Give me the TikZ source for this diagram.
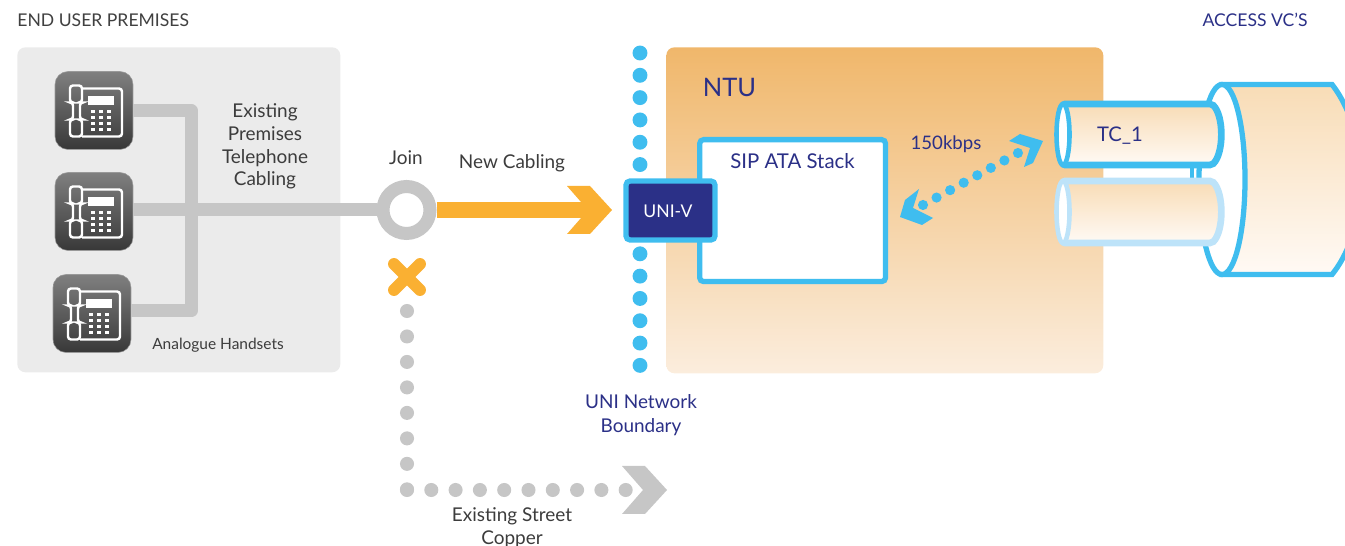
\documentclass[tikz,border=0pt]{standalone}
\usepackage{fontspec}
\setmainfont{Lato}
\usepackage{tikz}
\usetikzlibrary{arrows, calc}

\definecolor{uninavy}{HTML}{2B3087}
\definecolor{uniblue}{HTML}{3FBDEF}
\definecolor{paleblue}{HTML}{BDE3F9}
\definecolor{cableorange}{HTML}{FAB032}
\definecolor{cablegray}{HTML}{C6C6C6}
\definecolor{premgray}{HTML}{EBEBEB}
\definecolor{ntutop}{HTML}{F0B76B}
\definecolor{ntubottom}{HTML}{FBEDDD}
\definecolor{tubetop}{HTML}{F8DCB6}
\definecolor{tubebottom}{HTML}{FFFAF5}
\definecolor{labelgray}{HTML}{3C3C3C}

\tikzset{
    phonebox/.style={rounded corners=0.26cm, minimum width=1.56cm, minimum height=1.56cm, top color=black!50, bottom color=black!78, draw=black!40, line width=0.3pt},
    phoneline/.style={draw=white, line width=1.4pt, rounded corners=0.06cm},
    premcable/.style={cablegray, line width=7.4pt},
    newcable/.style={cableorange, line width=9pt},
    dotgray/.style={cablegray, line width=8pt, line cap=round, dash pattern=on 0pt off 14.5pt},
    dotgrayh/.style={cablegray, line width=8pt, line cap=round, dash pattern=on 0pt off 13.83pt},
    dotblue/.style={uniblue, line width=8.5pt, line cap=round, dash pattern=on 0pt off 12.7pt},
    dotrate/.style={uniblue, line width=5.8pt, line cap=round, dash pattern=on 0pt off 8.8pt},
    bluebox/.style={draw=uniblue, line width=3pt, rounded corners=0.08cm},
    txt/.style={text=labelgray, inner sep=0pt, align=center, font=\fontsize{10.8}{13}\selectfont},
    navytxt/.style={text=uninavy, inner sep=0pt, align=center, font=\fontsize{10.8}{14}\selectfont},
}

% one small tube of the cable: name, top, bottom, outline colour
\newcommand{\tube}[4]{
    \path[top color=tubetop, bottom color=tubebottom, draw=#4, line width=3.8pt, rounded corners=0.04cm]
        (1063,#2) -- (1212,#2) .. controls (1224,#2+12) and (1224,#3-12) .. (1212,#3) -- (1063,#3) -- cycle;
    \draw[#4, fill=white, line width=2.6pt] (1063,{(#2+#3)/2}) ellipse (6.5 and {(#3-#2)/2});
    \coordinate (#1) at (1058,{(#2+#3)/2});
}

\begin{document}
\begin{tikzpicture}[x=0.02cm, y=-0.02cm]
    \useasboundingbox (0,0) rectangle (1345,546);

    % premises side
    \node (premises) [fill=premgray, rounded corners=0.16cm, minimum width=6.46cm, minimum height=6.5cm, anchor=north west] at (17,47) {};
    \node (endlabel) [txt, text=black!75, font=\fontsize{10}{13}\selectfont, anchor=west] at (17,20) {END USER PREMISES};

    \node (phoneA) [phonebox] at (94,110.5) {};
    \node (phoneB) [phonebox] at (94,211.5) {};
    \node (phoneC) [phonebox] at (92,313.5) {};

    \foreach \ph in {phoneA,phoneB,phoneC}{
        \begin{scope}[shift={(\ph.center)}]
            \draw[phoneline] (-24,-25) -- (-12,-25) -- (-12,-8) -- (-14,-8) -- (-14,9) -- (-12,9) -- (-12,26) -- (-24,26) -- (-24,9) -- (-21,9) -- (-21,-8) -- (-24,-8) -- cycle;
            \draw[phoneline] (-12,-22) -- (28,-22) -- (28,26) -- (-12,26);
            \fill[white] (-6,-14) rectangle (20,-5);
            \foreach \kx in {-1,7,15}
                \foreach \ky in {1,7,13,19}
                    \fill[white] (\kx-2,\ky-1.8) rectangle (\kx+2,\ky+1.8);
        \end{scope}
    }

    \coordinate (busA) at (191,110.5);
    \coordinate (busC) at (191,311);
    \node (join) [circle, draw=cablegray, line width=7.4pt, fill=white, minimum size=0.94cm, inner sep=0pt] at (406.5,210) {};
    \draw[premcable, line join=round] (phoneA.east) -- (busA) -- (busC) -- (phoneC.east |- busC);
    \draw[premcable] (phoneB.east |- join) -- (join.west);

    \node (cablingtxt) [txt] at (265,146.5) {Existing\\Premises\\Telephone\\Cabling};
    \node (handsets) [txt, font=\fontsize{8.8}{10}\selectfont] at (218,345) {Analogue Handsets};
    \node (joinlabel) [txt] at (406,158) {Join};
    \node (newlabel) [txt] at (512,163) {New Cabling};

    % ntu box with the stack
    \node (ntu) [top color=ntutop, bottom color=ntubottom, rounded corners=0.16cm, minimum width=8.74cm, minimum height=6.52cm, anchor=north west] at (666,47) {};
    \node (ntulabel) [navytxt, font=\fontsize{14.5}{18}\selectfont] at (729.5,87) {NTU};

    \draw[dotblue] (640,53) -- (640,368);

    \node (sip) [bluebox, fill=white, minimum width=3.72cm, minimum height=2.84cm, anchor=north west] at (697,137) {};
    \node (siplabel) [navytxt, font=\fontsize{11.6}{13}\selectfont] at (792.5,161) {SIP ATA Stack};
    \node (univ) [bluebox, fill=uninavy, minimum width=1.78cm, minimum height=1.18cm, text=white, font=\fontsize{10}{11}\selectfont] at (670.5,210.5) {};
    \node (univlabel) [inner sep=0pt, text=white, font=\fontsize{10}{11}\selectfont] at (668,211) {UNI-V};

    % new cabling arrow
    \coordinate (newtip) at (612,210);
    \draw[newcable] (join.east) -- ($(newtip)+(-22,0)$);
    \fill[cableorange, shift={(newtip)}] (-45,-24) -- (-22,-24) -- (0,0) -- (-22,24) -- (-45,24) -- (-24,0) -- cycle;

    % removed street copper
    \coordinate (crossmark) at (407,277);
    \draw[cableorange, line width=6.8pt, line cap=round] ($(crossmark)+(-13,-13)$) -- ($(crossmark)+(13,13)$);
    \draw[cableorange, line width=6.8pt, line cap=round] ($(crossmark)+(13,-13)$) -- ($(crossmark)+(-13,13)$);
    \coordinate (streetA) at (407,311);
    \coordinate (streetB) at (407,490);
    \coordinate (streettip) at (667,490);
    \fill[cablegray, shift={(streettip)}] (-45,-24) -- (-22,-24) -- (0,0) -- (-22,24) -- (-45,24) -- (-24,0) -- cycle;
    \draw[dotgray] (streetA) -- (streetB);
    \draw[dotgrayh] (streetB) -- (632,490);
    \node (streetlabel) [txt] at (512,527.5) {Existing Street\\Copper};
    \node (unilabel) [navytxt] at (641,415) {UNI Network\\Boundary};

    % access cable
    \node (accesslabel) [navytxt, font=\fontsize{10}{14}\selectfont, anchor=east] at (1308,20) {ACCESS VC'S};
    \path[top color=tubetop, bottom color=tubebottom, draw=uniblue, line width=3pt] (1222,84.5) -- (1332,84.5) .. controls (1352,110) and (1362,150) .. (1362,180) .. controls (1362,210) and (1352,250) .. (1332,274.5) -- (1222,274.5) -- cycle;
    \draw[uniblue, fill=white, line width=3pt] (1222,179.5) ellipse (23 and 95);

    \coordinate (stubA) at (1192,165);
    \coordinate (stubB) at (1192,180);
    \draw[uniblue, line width=2.6pt] (stubA) -- (stubB);
    \tube{tubeB}{181}{243}{paleblue}
    \tube{tubeA}{104}{165}{uniblue}
    \node (tclabel) [navytxt, font=\fontsize{11.5}{14}\selectfont] at (1120,136) {TC\_1};

    % rate between stack and tube
    \node (ratelabel) [navytxt, font=\fontsize{10.6}{14}\selectfont] at (946,144.5) {150kbps};
    \coordinate (rateL) at (923,205);
    \coordinate (rateR) at (1018,153);
    \draw[dotrate] (rateL) -- (rateR);
    \fill[uniblue, line join=round] (1043,141) -- (1020,134) -- (1009,141) -- (1030,148) -- (1024,167) -- (1033,163) -- cycle;
    \fill[uniblue, line join=round] (900,217) -- (905,200) -- (919,189) -- (913,208) -- (933,218) -- (922,225) -- cycle;
\end{tikzpicture}
\end{document}
